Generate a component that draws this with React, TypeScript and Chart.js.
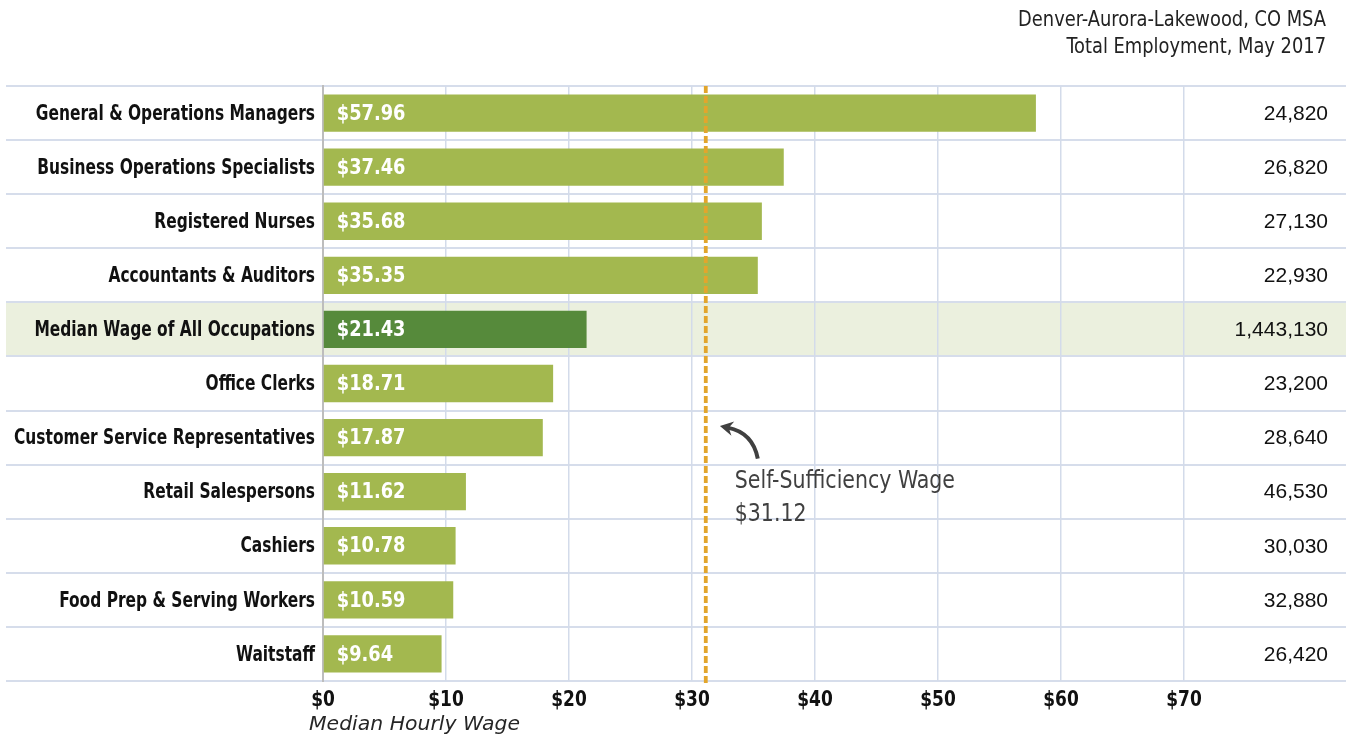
import React, { useEffect, useRef } from "react";
import { Chart, registerables } from "chart.js";

Chart.register(...registerables);

const occupations = [
  "General & Operations Managers",
  "Business Operations Specialists",
  "Registered Nurses",
  "Accountants & Auditors",
  "Median Wage of All Occupations",
  "Office Clerks",
  "Customer Service Representatives",
  "Retail Salespersons",
  "Cashiers",
  "Food Prep & Serving Workers",
  "Waitstaff",
];
const medianWages = [57.96, 37.46, 35.68, 35.35, 21.43, 18.71, 17.87, 11.62, 10.78, 10.59, 9.64];
const employment = [
  "24,820",
  "26,820",
  "27,130",
  "22,930",
  "1,443,130",
  "23,200",
  "28,640",
  "46,530",
  "30,030",
  "32,880",
  "26,420",
];
const highlightIndex = 4;
const selfSufficiencyWage = 31.12;
const annotationLines = ["Self-Sufficiency Wage", "$31.12"];
const titleLines = ["Denver-Aurora-Lakewood, CO MSA", "Total Employment, May 2017"];
const xAxisTitle = "Median Hourly Wage";
const xMin = 0;
const xMax = 70;
const xStep = 10;

const COND = '"DejaVu Sans Condensed", "DejaVu Sans", sans-serif';
const SANS = '"Liberation Sans", Arial, sans-serif';
const DEJAVU = '"DejaVu Sans", sans-serif';

function drawText(
  ctx: CanvasRenderingContext2D,
  s: string,
  x: number,
  y: number,
  font: string,
  color: string,
  align: CanvasTextAlign,
  sx: number
) {
  ctx.save();
  ctx.font = font;
  ctx.fillStyle = color;
  ctx.textAlign = align;
  ctx.textBaseline = "middle";
  ctx.translate(x, y);
  ctx.scale(sx, 1);
  ctx.fillText(s, 0, 0);
  ctx.restore();
}

const overlayPlugin = {
  id: "overlay",
  beforeDraw(chart: any) {
    const { ctx, chartArea, scales } = chart;
    const y = scales.y;
    const n = occupations.length;
    const rowH = (chartArea.bottom - chartArea.top) / n;
    ctx.save();
    const hy = y.getPixelForValue(highlightIndex);
    ctx.fillStyle = "#EBF0DE";
    ctx.fillRect(6, hy - rowH / 2, chart.width - 6, rowH);
    ctx.strokeStyle = "#D6DDEB";
    ctx.lineWidth = 2;
    for (let i = 0; i <= n; i++) {
      const yy = Math.round(chartArea.top + i * rowH);
      ctx.beginPath();
      ctx.moveTo(6, yy);
      ctx.lineTo(chart.width, yy);
      ctx.stroke();
    }
    ctx.restore();
  },
  afterDatasetsDraw(chart: any) {
    const { ctx, chartArea, scales } = chart;
    const x = scales.x;
    const y = scales.y;
    const meta = chart.getDatasetMeta(0);

    // category labels
    occupations.forEach((label, i) => {
      drawText(ctx, label, chartArea.left - 8, y.getPixelForValue(i) + 1, `bold 22px ${COND}`, "#111111", "right", 0.78);
    });

    // bar value labels
    meta.data.forEach((bar: any, i: number) => {
      drawText(ctx, "$" + medianWages[i].toFixed(2), bar.base + 13, bar.y + 1, `bold 22px ${COND}`, "#FFFFFF", "left", 0.9);
    });

    // employment numbers
    meta.data.forEach((bar: any, i: number) => {
      drawText(ctx, employment[i], chart.width - 18, bar.y + 1, `21px ${SANS}`, "#111111", "right", 1);
    });

    // x tick labels
    x.ticks.forEach((t: any) => {
      drawText(ctx, "$" + t.value, x.getPixelForValue(t.value), chartArea.bottom + 19, `bold 22px ${COND}`, "#111111", "center", 0.86);
    });

    ctx.save();
    // self-sufficiency dashed line
    const xl = x.getPixelForValue(selfSufficiencyWage);
    ctx.strokeStyle = "#E2A52C";
    ctx.lineWidth = 3.8;
    ctx.setLineDash([7, 3]);
    ctx.beginPath();
    ctx.moveTo(xl, chartArea.top);
    ctx.lineTo(xl, chartArea.bottom + 3);
    ctx.stroke();
    ctx.setLineDash([]);

    // arrow
    const yc = y.getPixelForValue(6);
    const sx = xl + 52, sy = yc + 21;
    const cx = xl + 47, cy = yc - 5;
    const tx = xl + 22, ty = yc - 10;
    ctx.strokeStyle = "#404040";
    ctx.lineWidth = 4;
    ctx.beginPath();
    ctx.moveTo(sx, sy);
    ctx.quadraticCurveTo(cx, cy, tx, ty);
    ctx.stroke();
    const ang = Math.atan2(ty - cy, tx - cx);
    const hx = tx + Math.cos(ang) * 8;
    const hy = ty + Math.sin(ang) * 8;
    const hl = 15;
    ctx.fillStyle = "#404040";
    ctx.beginPath();
    ctx.moveTo(hx, hy);
    ctx.lineTo(hx - hl * Math.cos(ang - 0.5), hy - hl * Math.sin(ang - 0.5));
    ctx.lineTo(hx - hl * 0.6 * Math.cos(ang), hy - hl * 0.6 * Math.sin(ang));
    ctx.lineTo(hx - hl * Math.cos(ang + 0.5), hy - hl * Math.sin(ang + 0.5));
    ctx.closePath();
    ctx.fill();
    ctx.restore();

    // annotation text
    const y7 = y.getPixelForValue(7);
    drawText(ctx, annotationLines[0], xl + 29, y7 - 10, `24px ${COND}`, "#404040", "left", 0.95);
    drawText(ctx, annotationLines[1], xl + 29, y7 + 23, `24px ${COND}`, "#404040", "left", 0.95);

    // title
    drawText(ctx, titleLines[0], chart.width - 20, 21, `21px ${COND}`, "#222222", "right", 0.945);
    drawText(ctx, titleLines[1], chart.width - 20, 48, `21px ${COND}`, "#222222", "right", 0.945);

    // x axis title
    drawText(ctx, xAxisTitle, chartArea.left - 14, chartArea.bottom + 44, `italic 20px ${DEJAVU}`, "#262626", "left", 1.02);
  },
};

export default function App() {
  const canvasRef = useRef<HTMLCanvasElement | null>(null);

  useEffect(() => {
    document.body.style.margin = "0";
    const canvas = canvasRef.current;
    if (!canvas) return;
    const chart = new Chart(canvas, {
      type: "bar",
      data: {
        labels: occupations,
        datasets: [
          {
            data: medianWages,
            backgroundColor: medianWages.map((_, i) => (i === highlightIndex ? "#568A3B" : "#A3B84F")),
            borderWidth: 0,
            barPercentage: 0.69,
            categoryPercentage: 1,
          },
        ],
      },
      options: {
        indexAxis: "y",
        responsive: false,
        animation: false,
        devicePixelRatio: 1,
        layout: { padding: { top: 86, right: 162, left: 0, bottom: 0 } },
        plugins: {
          legend: { display: false },
          tooltip: { enabled: false },
        },
        scales: {
          x: {
            type: "linear",
            min: xMin,
            max: xMax,
            ticks: {
              stepSize: xStep,
              display: false,
            },
            grid: {
              color: (c: any) => (c.tick && c.tick.value === 0 ? "rgba(0,0,0,0)" : "#D3DBEA"),
              lineWidth: 1.5,
              drawTicks: false,
            },
            border: { display: false },
            afterFit: (scale: any) => {
              scale.height = 57;
            },
          },
          y: {
            type: "category",
            ticks: { display: false },
            grid: { display: false, drawTicks: false },
            border: { display: true, color: "#BDBDBD", width: 2 },
            afterFit: (scale: any) => {
              scale.width = 323;
            },
          },
        },
      },
      plugins: [overlayPlugin],
    });
    return () => chart.destroy();
  }, []);

  return (
    <div style={{ width: 1346, height: 738, background: "#ffffff" }}>
      <canvas ref={canvasRef} width={1346} height={738} style={{ display: "block" }} />
    </div>
  );
}
